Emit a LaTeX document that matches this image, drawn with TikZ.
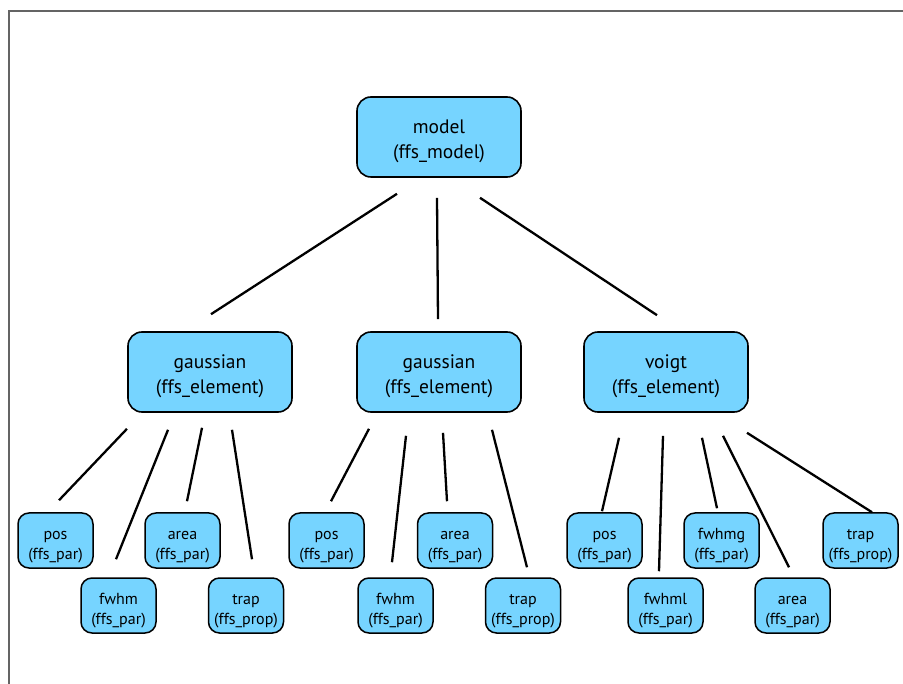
\documentclass[tikz,border=0pt]{standalone}
\usepackage{fontspec}
\setmainfont{PT Sans}
\definecolor{boxblue}{RGB}{118,212,255}
\definecolor{framegray}{RGB}{100,100,100}
% two-line box label, set a little below the box centre
\newlength{\lblshift}
\newcommand{\boxlbl}[2]{\raisebox{-\lblshift}[\height][\depth]{%
  \begin{tabular}{@{}c@{}}#1\\#2\end{tabular}}}
\begin{document}
\begin{tikzpicture}[x=1pt,y=-1pt,
  bigbox/.style={draw=black, line width=1.6pt, fill=boxblue, rounded corners=14pt,
    minimum width=164pt, minimum height=80pt, inner sep=0pt,
    font={\fontsize{19.5}{25}\selectfont\setlength{\lblshift}{4pt}}},
  smallbox/.style={draw=black, line width=1.5pt, fill=boxblue, rounded corners=11pt,
    minimum width=75pt, minimum height=55pt, inner sep=0pt,
    font={\fontsize{16}{19.5}\selectfont\setlength{\lblshift}{5pt}}},
  link/.style={draw=black, line width=2.3pt}]
\useasboundingbox (0,0) rectangle (903,684);
% page frame
\draw[framegray, line width=1.5pt] (9,684) -- (9,11) -- (903,11);

% top level
\node[bigbox] (model) at (439,137) {\boxlbl{model}{(ffs\_model)}};

% elements
\node[bigbox] (g1) at (210,372) {\boxlbl{gaussian}{(ffs\_element)}};
\node[bigbox] (g2) at (439,372) {\boxlbl{gaussian}{(ffs\_element)}};
\node[bigbox] (vg) at (666,372) {\boxlbl{voigt}{(ffs\_element)}};

% parameters of the first gaussian
\node[smallbox] (pos1)  at (55.5,540.5)  {\boxlbl{pos}{(ffs\_par)}};
\node[smallbox] (area1) at (182.5,540.5) {\boxlbl{area}{(ffs\_par)}};
\node[smallbox] (fwhm1) at (118.5,605.5) {\boxlbl{fwhm}{(ffs\_par)}};
\node[smallbox] (trap1) at (246,605.5)   {\boxlbl{trap}{(ffs\_prop)}};

% parameters of the second gaussian
\node[smallbox] (pos2)  at (326.5,540.5) {\boxlbl{pos}{(ffs\_par)}};
\node[smallbox] (area2) at (455,540.5)   {\boxlbl{area}{(ffs\_par)}};
\node[smallbox] (fwhm2) at (395.5,605.5) {\boxlbl{fwhm}{(ffs\_par)}};
\node[smallbox] (trap2) at (523,605.5)   {\boxlbl{trap}{(ffs\_prop)}};

% parameters of the voigt
\node[smallbox] (pos3)  at (604.5,540.5) {\boxlbl{pos}{(ffs\_par)}};
\node[smallbox] (fwhmg) at (721.5,540.5) {\boxlbl{fwhmg}{(ffs\_par)}};
\node[smallbox] (trap3) at (860.5,540.5) {\boxlbl{trap}{(ffs\_prop)}};
\node[smallbox] (fwhml) at (665.5,605.5) {\boxlbl{fwhml}{(ffs\_par)}};
\node[smallbox] (area3) at (792.5,605.5) {\boxlbl{area}{(ffs\_par)}};

% tree links (detached from the boxes)
\draw[link] ([shift={(-42,16)}]model.south) -- ([shift={(1,-17)}]g1.north);
\draw[link] ([shift={(-2,20)}]model.south)  -- ([shift={(-1,-12)}]g2.north);
\draw[link] ([shift={(41,20)}]model.south)  -- ([shift={(-9,-16)}]vg.north);

\draw[link] ([shift={(-83,16)}]g1.south) -- ([shift={(3.5,-12)}]pos1.north);
\draw[link] ([shift={(-42,17)}]g1.south) -- ([shift={(-2.5,-18)}]fwhm1.north);
\draw[link] ([shift={(-8,15)}]g1.south)  -- ([shift={(4.5,-11)}]area1.north);
\draw[link] ([shift={(22,17)}]g1.south)  -- ([shift={(6,-18)}]trap1.north);

\draw[link] ([shift={(-70,16)}]g2.south) -- ([shift={(4.5,-11)}]pos2.north);
\draw[link] ([shift={(-33,23)}]g2.south) -- ([shift={(-3.5,-15)}]fwhm2.north);
\draw[link] ([shift={(4,20)}]g2.south)   -- ([shift={(-8,-11)}]area2.north);
\draw[link] ([shift={(53,17)}]g2.south)  -- ([shift={(4,-10)}]trap2.north);

\draw[link] ([shift={(-47,25)}]vg.south) -- ([shift={(-2.5,-1)}]pos3.north);
\draw[link] ([shift={(-3,23)}]vg.south)  -- ([shift={(-6.5,-6)}]fwhml.north);
\draw[link] ([shift={(36,25)}]vg.south)  -- ([shift={(-4.5,-4)}]fwhmg.north);
\draw[link] ([shift={(57,23)}]vg.south)  -- ([shift={(-3.5,-10)}]area3.north);
\draw[link] ([shift={(81,20)}]vg.south)  -- ([shift={(11.5,0)}]trap3.north);
\end{tikzpicture}
\end{document}
